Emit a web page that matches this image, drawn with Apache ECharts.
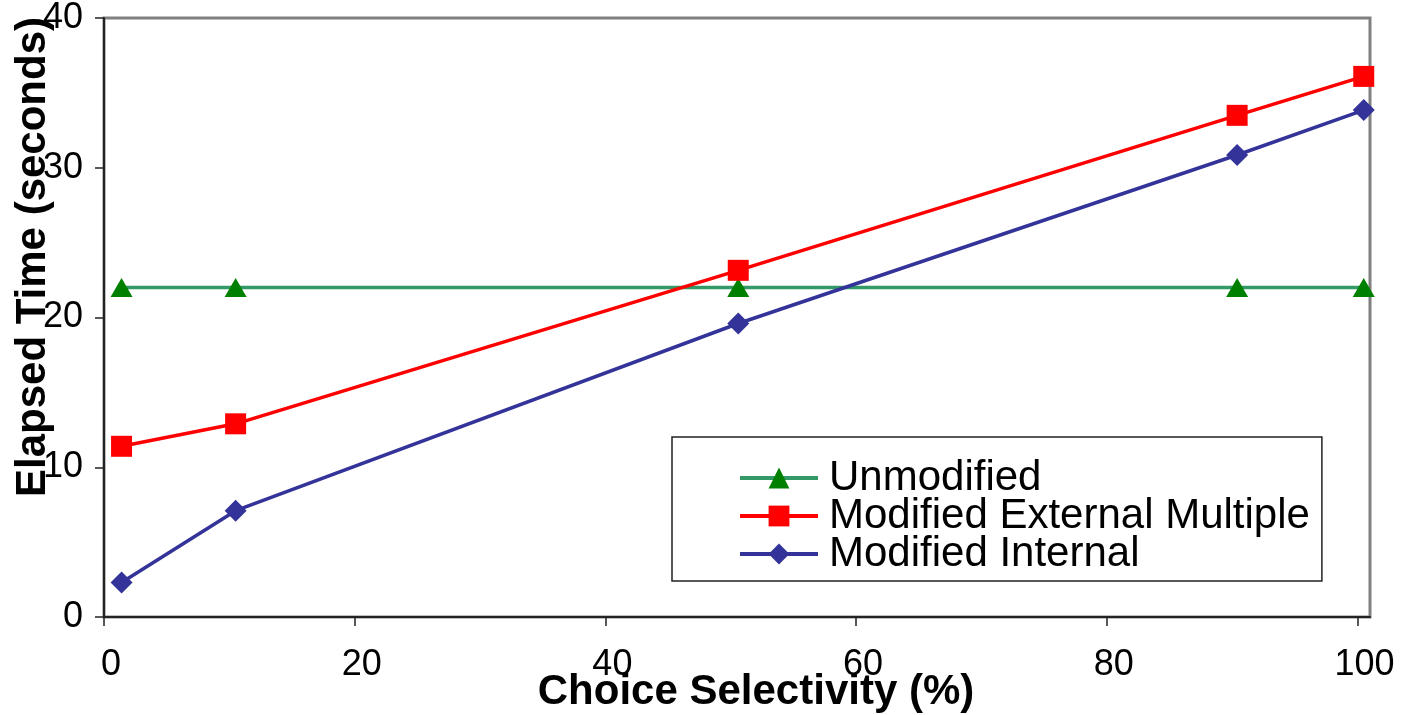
<!DOCTYPE html>
<html>
<head>
<meta charset="utf-8">
<script src="https://cdn.jsdelivr.net/npm/echarts@6/dist/echarts.min.js"></script>
<style>
html,body{margin:0;padding:0;background:#fff;}
#chart{width:1403px;height:715px;}
</style>
</head>
<body>
<div id="chart"></div>
<script>
// Data
const xValues = [1.4, 10.5, 50.6, 90.4, 100.5];
const unmodified = [22, 22, 22, 22, 22];
const modifiedExternalMultiple = [11.4, 12.9, 23.15, 33.5, 36.1];
const modifiedInternal = [2.3, 7.1, 19.6, 30.85, 33.85];
const xTicks = [0, 20, 40, 60, 80, 100];
const seriesNames = ['Unmodified', 'Modified External Multiple', 'Modified Internal'];
const xTitle = 'Choice Selectivity (%)';
const yTitle = 'Elapsed Time (seconds)';

const FONT = '"Liberation Sans", Arial, Helvetica, sans-serif';
const pairs = (ys) => xValues.map((x, i) => [x, ys[i]]);

const chart = echarts.init(document.getElementById('chart'), null, {renderer: 'canvas'});
chart.setOption({
  animation: false,
  backgroundColor: '#fff',
  grid: {
    left: 104, top: 14, right: 33, bottom: 98,
    show: true, borderColor: '#808080', borderWidth: 3, backgroundColor: 'transparent'
  },
  xAxis: {
    type: 'value', min: 0, max: 101,
    splitLine: {show: false},
    axisLine: {show: true, onZero: false, lineStyle: {color: '#222', width: 2}},
    axisTick: {show: true, inside: false, length: 9, customValues: xTicks, lineStyle: {color: '#222', width: 1.5}},
    axisLabel: {customValues: xTicks, color: '#000', fontSize: 36, fontFamily: FONT, margin: 30, padding: [0, 0, 0, 14]}
  },
  yAxis: {
    type: 'value', min: 0, max: 40, interval: 10,
    splitLine: {show: false},
    axisLine: {show: true, onZero: false, lineStyle: {color: '#222', width: 2}},
    axisTick: {show: true, inside: false, length: 9, lineStyle: {color: '#222', width: 1.5}},
    axisLabel: {color: '#000', fontSize: 36, fontFamily: FONT, margin: 21}
  },
  legend: {
    orient: 'vertical',
    left: 672, top: 437,
    padding: [20, 12, 6, 66],
    itemGap: -4,
    itemWidth: 78, itemHeight: 26,
    backgroundColor: '#fff',
    borderColor: '#222', borderWidth: 1.5, borderRadius: 0,
    lineStyle: {width: 4},
    textStyle: {color: '#000', fontSize: 42, fontFamily: FONT, lineHeight: 38, padding: [0, 0, 0, 6]},
    data: seriesNames
  },
  series: [
    {
      name: seriesNames[0], type: 'line', data: pairs(unmodified),
      symbol: 'triangle', symbolSize: [22, 19],
      lineStyle: {color: '#339966', width: 3.5},
      itemStyle: {color: '#008000'},
      z: 3
    },
    {
      name: seriesNames[1], type: 'line', data: pairs(modifiedExternalMultiple),
      symbol: 'rect', symbolSize: [21, 21],
      lineStyle: {color: '#ff0000', width: 3.5},
      itemStyle: {color: '#ff0000'},
      z: 4
    },
    {
      name: seriesNames[2], type: 'line', data: pairs(modifiedInternal),
      symbol: 'diamond', symbolSize: [22, 22],
      lineStyle: {color: '#333399', width: 3.5},
      itemStyle: {color: '#333399'},
      z: 5
    }
  ],
  graphic: [
    {
      type: 'text', x: 33, y: 257, rotation: Math.PI / 2,
      style: {text: yTitle, font: 'bold 42px ' + FONT, fill: '#000', align: 'center', verticalAlign: 'middle'},
      z: 10
    },
    {
      type: 'text', x: 756, y: 692,
      style: {text: xTitle, font: 'bold 42px ' + FONT, fill: '#000', align: 'center', verticalAlign: 'middle'},
      z: 10
    }
  ]
});
</script>
</body>
</html>
